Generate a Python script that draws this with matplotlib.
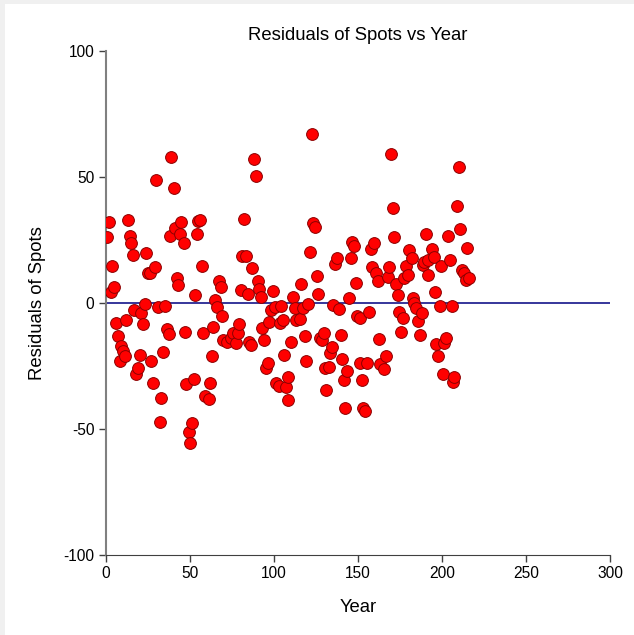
import matplotlib
matplotlib.use('Agg')
import matplotlib.pyplot as plt
from matplotlib.patches import Rectangle
import numpy as np

plt.rcParams['font.family'] = ['Liberation Sans', 'DejaVu Sans']
plt.rcParams['axes.unicode_minus'] = False

# residuals, (year, residual)
year = [1.1, 2.1, 3.1, 4.0, 5.1, 6.4, 7.4, 8.5, 9.4, 10.4, 11.4, 12.4, 13.4, 14.4, 15.4, 16.4,
        17.0, 18.3, 19.3, 20.4, 21.3, 22.3, 23.3, 24.3, 25.3, 26.7, 27.3, 28.3, 29.3, 30.2,
        31.3, 32.3, 33.2, 34.2, 35.6, 36.6, 37.6, 38.2, 39.2, 40.6, 41.2, 42.6, 43.3, 44.5,
        45.1, 46.5, 47.5, 48.1, 49.5, 50.5, 51.7, 52.5, 53.1,
        54.3, 55.2, 56.3, 57.3, 58.2, 59.2, 61.6, 62.2, 63.2, 64.2, 65.2, 66.5, 67.6, 68.6,
        69.5, 70.1, 72.5, 74.5, 76.1, 77.5, 78.5, 79.5, 80.5, 81.4, 82.4, 83.6, 84.6, 85.4,
        86.6, 87.4, 88.6, 89.6, 90.4, 91.5, 92.4, 93.3, 94.5, 95.5, 96.5, 97.5, 98.5, 99.5,
        100.5, 101.5, 102.9, 103.5, 104.3, 105.8, 106.4, 107.4, 108.5, 108.6,
        110.6, 111.6, 112.6, 113.4, 115.6, 116.5, 117.4, 118.6, 119.5, 120.5, 121.7, 122.9,
        123.5, 124.7, 125.5, 126.5, 127.6, 128.6, 129.9, 130.5, 131.4, 132.9, 133.5, 134.4,
        135.4, 136.4, 137.8, 138.8, 139.8, 140.8, 141.8, 142.7, 143.8, 144.8, 145.7, 146.7,
        147.7, 148.7, 149.7, 151.1, 151.3, 152.7, 153.3, 154.6, 155.7, 156.7, 157.6, 158.6,
        159.6, 161.0, 162.0, 162.6, 163.2,
        165.8, 166.8, 167.7, 168.8, 169.8, 170.7, 171.7, 172.7, 173.7, 174.7, 175.7, 176.7,
        177.7, 178.7, 179.6, 180.7, 182.0, 182.6, 183.6, 184.6, 185.6, 187.0, 188.0, 188.6,
        189.6, 190.4, 191.5, 192.0, 193.9, 195.1, 195.9, 196.5, 197.5, 198.9, 199.5, 200.5,
        201.5, 202.5, 203.9, 205.1, 205.8, 206.8, 207.4, 208.8, 210.0, 211.0, 212.0, 213.0,
        214.4, 215.0, 216.0]
resid = [26.3, 32.0, 4.5, 14.8, 6.2, -8.1, -13.1, -22.9, -16.9, -18.9, -21.0, -6.7, 32.9, 26.6, 23.7, 19.0,
         -2.8, -28.3, -25.7, -20.6, -4.1, -8.3, -0.5, 20.0, 11.8, 12.0, -22.9, -31.6, 14.4, 48.8,
         -1.5, -47.1, -37.8, -19.3, -1.1, -10.4, -12.3, 26.6, 58.1, 45.5, 29.6, 10.0, 7.1, 27.4,
         32.0, 23.7, -11.6, -32.3, -51.1, -55.4, -47.8, -30.2, 3.1,
         27.3, 32.5, 32.9, 14.8, -12.0, -36.9, -38.2, -31.9, -20.9, -9.4, 1.2, -1.5, 8.7, 6.5,
         -5.2, -14.7, -15.4, -14.0, -12.0, -15.8, -11.8, -8.5, 5.2, 18.7, 33.3, 18.7, 3.5, -15.4,
         -16.7, 14.0, 57.0, 50.5, 8.7, 5.6, 2.5, -9.8, -14.7, -25.9, -23.7, -7.4, -2.8, 4.8,
         -1.5, -31.9, -32.9, -7.8, -1.2, -6.7, -20.6, -33.2, -29.2, -38.5,
         -15.4, 2.3, -1.9, -6.7, -6.5, 7.4, -1.9, -13.0, -23.0, -0.5, 20.4, 67.1,
         31.6, 30.3, 10.8, 3.6, -13.8, -14.6, -12.0, -25.9, -34.5, -25.5, -20.0, -17.6,
         -0.8, 15.5, 17.7, -2.4, -12.7, -22.3, -30.6, -41.8, -27.0, 1.9, 17.7, 24.1,
         22.6, 7.8, -5.2, -6.1, -23.7, -30.6, -41.8, -42.9, -23.7, -3.7, 21.3, 14.4,
         23.9, 11.8, 8.7, -14.4, -24.3,
         -26.3, -21.0, 10.4, 14.4, 59.0, 37.6, 26.1, 7.4, 3.2, -3.5, -11.4, -6.1,
         10.0, 14.8, 11.1, 21.0, 17.7, 2.1, 0.1, -2.1, -7.1, -12.7, -3.8, 15.1,
         16.4, 27.3, 17.1, 11.1, 21.3, 18.1, 4.2, -16.4, -21.0, -1.2, 14.7, -28.2,
         -16.0, -13.8, 26.7, 17.1, -1.2, -31.2, -29.2, 38.6, 53.8, 29.2, 13.1, 11.8,
         9.1, 21.9, 9.8]

fig = plt.figure(figsize=(6.34, 6.35), dpi=100, facecolor='#f0f0f0')
bg = Rectangle((5/634, 0), 1, 1 - 4/635, transform=fig.transFigure,
               facecolor='white', edgecolor='none', zorder=-10)
fig.add_artist(bg)
ax = fig.add_axes([105.5/634, 1 - 555/635, 504.5/634, 504/635])
ax.set_facecolor('none')

ax.axhline(0, color='#000080', lw=1.1, zorder=1)
ax.scatter(year, resid, s=72, facecolor='#ff0000', edgecolor='#8b0000', linewidth=0.7, zorder=3)

ax.set_xlim(0, 300)
ax.set_ylim(-100, 100)
ax.set_xticks(np.arange(0, 301, 50))
ax.set_yticks(np.arange(-100, 101, 50))
ax.tick_params(labelsize=11.2, length=5, width=1, colors='#404040', labelcolor='black', pad=3)

ax.spines['top'].set_visible(False)
ax.spines['right'].set_visible(False)
ax.spines['left'].set_color('#808080')
ax.spines['left'].set_linewidth(1.5)
ax.spines['bottom'].set_color('#404040')

ax.set_title('Residuals of Spots vs Year', fontsize=13.3, pad=8)
ax.set_xlabel('Year', fontsize=13.3, labelpad=13)
ax.set_ylabel('Residuals of Spots', fontsize=13.3, labelpad=12.5)

fig.savefig('out.png', dpi=100, facecolor=fig.get_facecolor())
